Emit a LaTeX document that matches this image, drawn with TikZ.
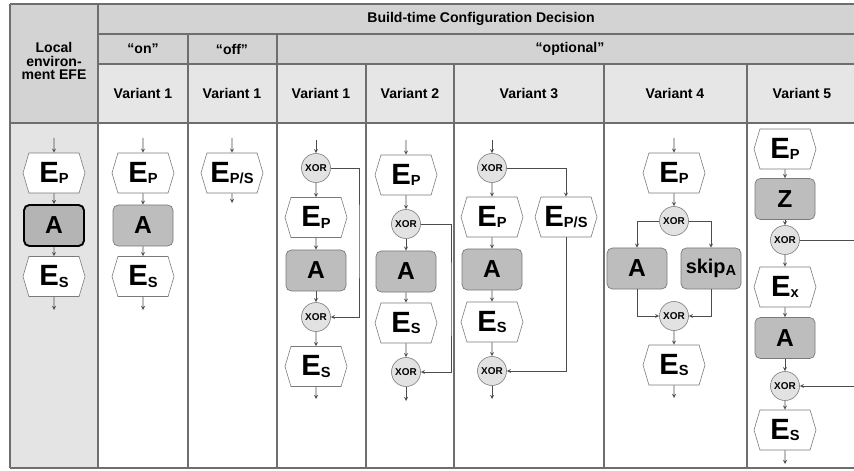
\documentclass[tikz,border=0pt]{standalone}
\usepackage{fontspec}
\setmainfont{Liberation Sans}
\usetikzlibrary{shapes.symbols}

\definecolor{headgray}{HTML}{D3D3D3}
\definecolor{vargray}{HTML}{E6E6E6}
\definecolor{envgray}{HTML}{E4E4E4}
\definecolor{funcgray}{HTML}{BDBDBD}
\definecolor{xorgray}{HTML}{E2E2E2}
\definecolor{rimgray}{HTML}{7A7A7A}
\definecolor{gridgray}{HTML}{6E6E6E}

\newcommand{\headfont}{\fontsize{12}{11.5}\selectfont\bfseries}
\newcommand{\evfont}{\fontsize{25}{25}\selectfont\bfseries}
\newcommand{\funcfont}{\fontsize{21}{21}\selectfont\bfseries}
\newcommand{\skipfont}{\fontsize{17}{17}\selectfont\bfseries}
\newcommand{\xorfont}{\fontsize{8.5}{8.5}\selectfont\bfseries}
\newcommand{\lowsub}[1]{\raisebox{-1.5pt}{\fontsize{12.5}{12.5}\selectfont #1}}

\begin{document}
\begin{tikzpicture}[x=0.3mm,y=-0.3mm,>=stealth,
    flow/.style={->,draw=black!70,line width=0.6pt},
    event/.style={signal,signal to=west and east,signal pointer angle=147,
      draw=rimgray,fill=white,line width=0.5pt,
      minimum width=18.6mm,minimum height=12mm,inner sep=0pt,font=\evfont},
    func/.style={rectangle,rounded corners=1.6mm,draw=rimgray,fill=funcgray,
      line width=0.6pt,minimum width=18mm,minimum height=12.3mm,inner sep=0pt,
      font=\funcfont},
    xor/.style={circle,draw=rimgray,fill=xorgray,line width=0.5pt,
      minimum size=8.7mm,inner sep=0pt,font=\xorfont},
    head/.style={font=\headfont,align=center}]
  \useasboundingbox (0,0) rectangle (854,471);
  \fill[white] (0,0) rectangle (854,471);

  % table
  \fill[headgray] (98,4) rectangle (854,64);
  \fill[headgray] (10,4) rectangle (98,123);
  \fill[vargray] (98,64) rectangle (854,123);
  \fill[envgray] (10,123) rectangle (98,468);
  \draw[gridgray,line width=0.5mm] (10,4) -- (854,4);
  \draw[gridgray,line width=0.5mm] (10,468) -- (854,468);
  \foreach \y/\xa in {34/98,64/98,123/10}
    \draw[gridgray,line width=0.4mm] (\xa,\y) -- (854,\y);
  \foreach \x/\ya in {10/4,98/4,188/34,277/34,366/64,454/64,604/64,747/64}
    \draw[gridgray,line width=0.4mm] (\x,\ya) -- (\x,468);

  \node[head] (hdec) at (481,19) {Build-time Configuration Decision};
  \node[head] (hon) at (143,49) {“on”};
  \node[head] (hoff) at (232,49) {“off”};
  \node[head] (hopt) at (570,49) {“optional”};
  \node[head] (henv) at (54,61) {Local\\environ-\\ment EFE};
  \foreach \x/\t [count=\i] in {143/Variant 1,232/Variant 1,321/Variant 1,
      410/Variant 2,529/Variant 3,675/Variant 4,802/Variant 5}
    \node[head] (var\i) at (\x,93) {\t};

  % free ends
  \foreach \n/\x/\y in {in1/54/138,out1/54/310,in2/143/138,out2/143/310,
      in3/232/138,out3/232/203,in4/316/140,out4/316/399,in5/406/140,
      out5/406/401,in6/492/140,out6/492/399,in7/674/138,out7/674/398,
      out8/785/464,r4/359/240,r5/451/300,edge8a/854/240,edge8b/854/386}
    \coordinate (\n) at (\x,\y);

  % local environment
  \node[event] (e11) at (54,173) {E\lowsub{P}};
  \node[func,draw=black,line width=1.6pt,fill=funcgray!95!black] (a11) at (54,225.5) {A};
  \node[event] (e12) at (54,276.5) {E\lowsub{S}};
  % on
  \node[event] (e21) at (143,173) {E\lowsub{P}};
  \node[func] (a21) at (143,225.5) {A};
  \node[event] (e22) at (143,276.5) {E\lowsub{S}};
  % off
  \node[event] (e31) at (232,173) {E\lowsub{P/S}};
  % optional, variant 1
  \node[xor] (x41) at (316,168) {XOR};
  \node[event] (e41) at (316,217.5) {E\lowsub{P}};
  \node[func] (a41) at (316,270.5) {A};
  \node[xor] (x42) at (316,317) {XOR};
  \node[event] (e42) at (316,366.5) {E\lowsub{S}};
  % variant 2
  \node[event] (e51) at (406,175) {E\lowsub{P}};
  \node[xor] (x51) at (406,224) {XOR};
  \node[func] (a51) at (406,271.5) {A};
  \node[event] (e52) at (406,323) {E\lowsub{S}};
  \node[xor] (x52) at (406,372) {XOR};
  % variant 3
  \node[xor] (x61) at (492,168) {XOR};
  \node[event] (e61) at (492,217) {E\lowsub{P}};
  \node[event] (e62) at (566,217) {E\lowsub{P/S}};
  \node[func] (a61) at (492,269.5) {A};
  \node[event] (e63) at (492,322) {E\lowsub{S}};
  \node[xor] (x62) at (492,371) {XOR};
  % variant 4
  \node[event] (e71) at (674,173) {E\lowsub{P}};
  \node[xor] (x71) at (674,221) {XOR};
  \node[func] (a71) at (637,268.5) {A};
  \node[func,font=\skipfont] (s71) at (711,268.5) {skip\lowsub{A}};
  \node[xor] (x72) at (674,316) {XOR};
  \node[event] (e72) at (674,365) {E\lowsub{S}};
  % variant 5
  \node[event] (e81) at (785,149) {E\lowsub{P}};
  \node[func] (z81) at (785,199) {Z};
  \node[xor] (x81) at (785,240) {XOR};
  \node[event] (e82) at (785,287) {E\lowsub{x}};
  \node[func] (a81) at (785,338) {A};
  \node[xor] (x82) at (785,386) {XOR};
  \node[event] (e83) at (785,430) {E\lowsub{S}};

  % control flow
  \foreach \a/\b in {in1/e11,e11/a11,a11/e12,e12/out1,
      in2/e21,e21/a21,a21/e22,e22/out2,in3/e31,e31/out3,
      in4/x41,x41/e41,e41/a41,a41/x42,x42/e42,e42/out4,
      in5/e51,e51/x51,x51/a51,a51/e52,e52/x52,x52/out5,
      in6/x61,x61/e61,e61/a61,a61/e63,e63/x62,x62/out6,
      in7/e71,e71/x71,x72/e72,e72/out7,
      e81/z81,z81/x81,x81/e82,e82/a81,a81/x82,x82/e83,e83/out8}
    \draw[flow] (\a) -- (\b);
  \draw[flow] (x41.east) -| (r4) |- (x42.east);
  \draw[flow] (x51.east) -| (r5) |- (x52.east);
  \draw[flow] (x61.east) -| (e62.north);
  \draw[flow] (e62.south) |- (x62.east);
  \draw[flow] (x71.west) -| (a71.north);
  \draw[flow] (x71.east) -| (s71.north);
  \draw[flow] (a71.south) |- (x72.west);
  \draw[flow] (s71.south) |- (x72.east);
  \draw[draw=black!70,line width=0.6pt] (x81.east) -- (edge8a);
  \draw[flow] (edge8b) -- (x82.east);
\end{tikzpicture}
\end{document}
